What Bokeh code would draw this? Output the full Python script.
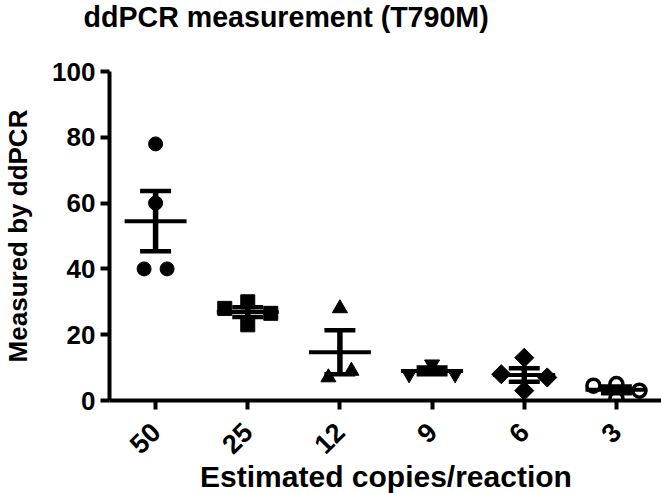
import numpy as np
from bokeh.plotting import figure
from bokeh.models import FixedTicker, Title
from bokeh.embed import file_html
from bokeh.resources import INLINE

# ---- data ----
categories = ["50", "25", "12", "9", "6", "3"]
vals_50 = [78, 60, 40, 40]
vals_25 = [30, 28, 26.5, 23]
vals_12 = [28, 9, 7]
vals_9 = [11, 8, 8]
vals_6 = [13, 8, 7, 3]
vals_3 = [5, 4.5, 3, 0.5]
y_ticks = [0, 20, 40, 60, 80, 100]

groups = [vals_50, vals_25, vals_12, vals_9, vals_6, vals_3]

# ---- styles ----
FONT = "Liberation Sans"
FRAME_W, FRAME_H = 553, 329
X_START, X_END = -0.5, len(categories) - 0.5
Y_START, Y_END = 0, 100
PX_X = FRAME_W / (X_END - X_START)
PX_Y = FRAME_H / (Y_END - Y_START)

marker_styles = [
    dict(marker="circle", size=14, angle=0.0, fill_color="black", line_width=1),
    dict(marker="square", size=14, angle=0.0, fill_color="black", line_width=1),
    dict(marker="triangle", size=15, angle=0.0, fill_color="black", line_width=1),
    dict(marker="inverted_triangle", size=15, angle=0.0, fill_color="black", line_width=1),
    dict(marker="square", size=13.5, angle=np.pi / 4, fill_color="black", line_width=1),
    dict(marker="circle", size=13, angle=0.0, fill_color="white", line_width=3.5),
]

SPREAD_PX = 23.0


def spread(values, thr_px):
    """GraphPad-like scatter spreading: place points so they do not overlap."""
    vals = np.asarray(values, dtype=float)
    order = np.argsort(-vals, kind="stable")
    offs = np.zeros(len(vals))
    placed = []
    cands = [0, -1, 1, -2, 2, -3, 3]
    for i in order:
        for c in cands:
            ok = True
            for j in placed:
                d = np.hypot((c - offs[j]) * SPREAD_PX, (vals[i] - vals[j]) * PX_Y)
                if d < thr_px:
                    ok = False
                    break
            if ok:
                offs[i] = c
                break
        placed.append(i)
    srt = np.argsort(-vals, kind="stable")
    clusters, cur = [], [srt[0]]
    for a, b in zip(srt[:-1], srt[1:]):
        if abs(vals[a] - vals[b]) * PX_Y < thr_px:
            cur.append(b)
        else:
            clusters.append(cur)
            cur = [b]
    clusters.append(cur)
    for cl in clusters:
        offs[cl] = offs[cl] - offs[cl].mean()
    return offs * SPREAD_PX / PX_X


p = figure(frame_width=FRAME_W, frame_height=FRAME_H,
           x_range=(X_START, X_END), y_range=(Y_START, Y_END),
           output_backend="svg", toolbar_location=None, title=None,
           min_border_left=100, min_border_right=0, min_border_top=64, min_border_bottom=0)
p.add_layout(Title(text=" ", text_font_size="1px", standoff=34), "above")
p.add_layout(Title(text="ddPCR measurement (T790M)", align="left", offset=-26,
                   vertical_align="top", standoff=0, text_font=FONT, text_font_size="28.6px",
                   text_font_style="bold", text_color="black"), "above")
p.outline_line_color = None
p.grid.visible = False
p.background_fill_color = "white"
p.border_fill_color = "white"

for i, (vals, st) in enumerate(zip(groups, marker_styles)):
    vals = np.asarray(vals, dtype=float)
    offs = spread(vals, st["size"] * (1.45 if st["angle"] else 1.0) + 1)
    xs = i + offs
    p.scatter(xs, vals, marker=st["marker"], size=st["size"], angle=st["angle"],
              fill_color=st["fill_color"], line_color="black", line_width=st["line_width"])
    mean = vals.mean()
    sem = vals.std(ddof=1) / np.sqrt(len(vals))
    p.segment(x0=[i], y0=[mean - sem], x1=[i], y1=[mean + sem], line_color="black", line_width=5.5)
    p.segment(x0=[i - 0.168, i - 0.168], y0=[mean - sem, mean + sem],
              x1=[i + 0.168, i + 0.168], y1=[mean - sem, mean + sem],
              line_color="black", line_width=4.5)
    p.segment(x0=[i - 0.336], y0=[mean], x1=[i + 0.336], y1=[mean],
              line_color="black", line_width=4)

for ax in (p.xaxis[0], p.yaxis[0]):
    ax.axis_line_width = 4
    ax.axis_line_color = "black"
    ax.major_tick_line_width = 4
    ax.major_tick_line_color = "black"
    ax.major_tick_out = 9
    ax.major_tick_in = 0
    ax.minor_tick_line_color = None
    ax.major_label_text_font = FONT
    ax.major_label_text_font_style = "bold"
    ax.major_label_text_font_size = "26px"
    ax.major_label_text_color = "black"
    ax.axis_label_text_font = FONT
    ax.axis_label_text_font_style = "bold"
    ax.axis_label_text_color = "black"

p.xaxis.ticker = FixedTicker(ticks=list(range(len(categories))))
p.xaxis.major_label_overrides = {i: c for i, c in enumerate(categories)}
p.xaxis.major_label_orientation = np.pi / 4
p.xaxis.major_label_text_font_size = "27px"
p.xaxis.major_label_standoff = 18
p.xaxis.axis_label = "Estimated copies/reaction"
p.xaxis.axis_label_text_font_size = "30px"
p.xaxis.axis_label_standoff = -5

p.yaxis.ticker = FixedTicker(ticks=y_ticks)
p.yaxis.major_label_standoff = 5
p.yaxis.axis_label = "Measured by ddPCR"
p.yaxis.axis_label_text_font_size = "26px"
p.yaxis.axis_label_standoff = 16

open("out.html", "w").write(file_html(p, INLINE))
